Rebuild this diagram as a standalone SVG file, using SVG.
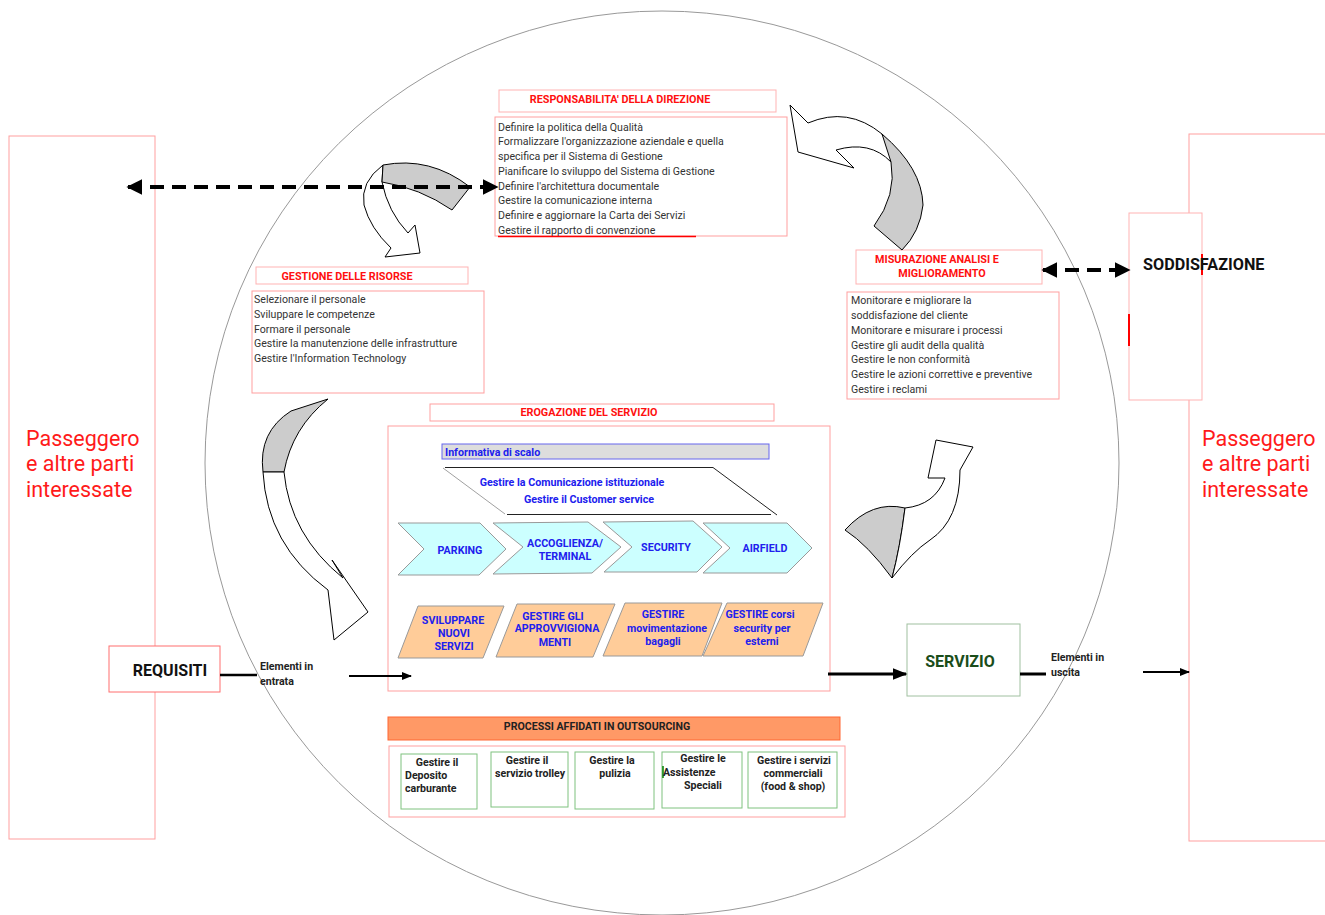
<svg xmlns="http://www.w3.org/2000/svg" width="1325" height="915" viewBox="0 0 1325 915">
<defs>
<style>
.pk{fill:#fff;stroke:#ff9f9f;stroke-width:1}
.t{font-family:Roboto,"Liberation Sans",sans-serif;font-size:10.6px;fill:#333}
.h{font-family:Roboto,"Liberation Sans",sans-serif;font-size:10.8px;font-weight:bold;fill:#ff1010}
.b{font-family:Roboto,"Liberation Sans",sans-serif;font-size:10.7px;font-weight:bold;fill:#2020ee}
.k{font-family:Roboto,"Liberation Sans",sans-serif;font-size:10.6px;font-weight:bold;fill:#222}
.pas{font-family:Roboto,"Liberation Sans",sans-serif;font-size:21.5px;fill:#ff1a1a}
.chev{fill:#ccffff;stroke:#999;stroke-width:1}
.par{fill:#ffcc99;stroke:#999;stroke-width:1}
.gb{fill:#fff;stroke:#7fc27f;stroke-width:1}
.ga{fill:#cccccc;stroke:#000;stroke-width:1}
.wa{fill:#fff;stroke:#000;stroke-width:1}
</style>
<marker id="ah" viewBox="0 0 10 10" refX="9" refY="5" markerWidth="4" markerHeight="4" orient="auto-start-reverse"><path d="M0,0 L10,5 L0,10 Z" fill="#000"/></marker>
<marker id="ah2" viewBox="0 0 10 10" refX="9" refY="5" markerWidth="5" markerHeight="5" orient="auto-start-reverse"><path d="M0,1 L10,5 L0,9 Z" fill="#000"/></marker>
</defs>
<rect width="1325" height="915" fill="#fff"/>

<g id="circle"><ellipse cx="662" cy="463" rx="457" ry="452" fill="none" stroke="#999" stroke-width="1"/></g>

<g id="stakeholder-left">
<rect x="9" y="136" width="146" height="703" class="pk"/>
<text class="pas" x="26" y="446">Passeggero</text>
<text class="pas" x="26" y="471">e altre parti</text>
<text class="pas" x="26" y="497">interessate</text>
</g>
<g id="stakeholder-right">
<rect x="1189" y="134" width="140" height="707" class="pk"/>
<text class="pas" x="1202" y="446">Passeggero</text>
<text class="pas" x="1202" y="471">e altre parti</text>
<text class="pas" x="1202" y="497">interessate</text>
</g>

<g id="soddisfazione">
<rect x="1129" y="213" width="73" height="187" fill="#fff" stroke="#ffb3b3"/>
<line x1="1202" y1="254" x2="1202" y2="275" stroke="#ff0000" stroke-width="2"/>
<line x1="1129" y1="314" x2="1129" y2="346" stroke="#ff0000" stroke-width="2"/>
<text x="1143" y="270" font-family="Roboto,'Liberation Sans',sans-serif" font-size="16.2" font-weight="bold" fill="#111">SODDISFAZIONE</text>
</g>

<g id="direzione">
<rect x="499" y="90" width="277" height="22" fill="#fff" stroke="#ffb3b3"/>
<text class="h" x="620" y="103" text-anchor="middle">RESPONSABILITA' DELLA DIREZIONE</text>
<rect x="495" y="117" width="292" height="119" class="pk"/>
<text class="t" x="498" y="131">Definire la politica della Qualità</text>
<text class="t" x="498" y="145">Formalizzare l'organizzazione aziendale e quella</text>
<text class="t" x="498" y="160">specifica per il Sistema di Gestione</text>
<text class="t" x="498" y="175">Pianificare lo sviluppo del Sistema di Gestione</text>
<text class="t" x="498" y="190">Definire l'architettura documentale</text>
<text class="t" x="498" y="204">Gestire la comunicazione interna</text>
<text class="t" x="498" y="219">Definire e aggiornare la Carta dei Servizi</text>
<text class="t" x="498" y="234">Gestire il rapporto di convenzione</text>
<line x1="498" y1="236.5" x2="696" y2="236.5" stroke="#ff0000" stroke-width="1.5"/>
</g>

<g id="risorse">
<rect x="256" y="267" width="212" height="17" fill="#fff" stroke="#ffb3b3"/>
<text class="h" x="347" y="279.5" text-anchor="middle">GESTIONE DELLE RISORSE</text>
<rect x="252" y="291" width="232" height="102" class="pk"/>
<text class="t" x="254" y="303">Selezionare il personale</text>
<text class="t" x="254" y="318">Sviluppare le competenze</text>
<text class="t" x="254" y="333">Formare il personale</text>
<text class="t" x="254" y="347">Gestire la manutenzione delle infrastrutture</text>
<text class="t" x="254" y="362">Gestire l'Information Technology</text>
</g>

<g id="misurazione">
<rect x="856" y="250" width="186" height="34" fill="#fff" stroke="#ffb3b3"/>
<text class="h" x="937" y="262.5" text-anchor="middle">MISURAZIONE ANALISI E</text>
<text class="h" x="942" y="276.5" text-anchor="middle">MIGLIORAMENTO</text>
<rect x="847" y="292" width="212" height="107" class="pk"/>
<text class="t" x="851" y="304">Monitorare e migliorare la</text>
<text class="t" x="851" y="319">soddisfazione del cliente</text>
<text class="t" x="851" y="334">Monitorare e misurare i processi</text>
<text class="t" x="851" y="349">Gestire gli audit della qualità</text>
<text class="t" x="851" y="363">Gestire le non conformità</text>
<text class="t" x="851" y="378">Gestire le azioni correttive e preventive</text>
<text class="t" x="851" y="393">Gestire i reclami</text>
</g>

<g id="erogazione">
<rect x="430" y="404" width="344" height="17" fill="#fff" stroke="#ff9f9f"/>
<text class="h" x="589" y="416" text-anchor="middle">EROGAZIONE DEL SERVIZIO</text>
<rect x="388" y="426" width="442" height="265" class="pk"/>
<rect x="442" y="444" width="327" height="15" fill="#dddddd" stroke="#6666ee"/>
<text class="b" x="445" y="456" font-size="10.2">Informativa di scalo</text>
<line x1="445" y1="467.5" x2="713" y2="467.5" stroke="#222" stroke-width="1.2"/>
<line x1="713" y1="467.5" x2="777" y2="515" stroke="#222" stroke-width="1"/>
<line x1="507" y1="514.5" x2="771" y2="514.5" stroke="#222" stroke-width="1.2"/>
<line x1="443" y1="468" x2="505" y2="514" stroke="#888" stroke-width="0.8"/>
<text class="b" x="572" y="486" text-anchor="middle" font-size="10.3">Gestire la Comunicazione istituzionale</text>
<text class="b" x="589" y="503" text-anchor="middle" font-size="10.3">Gestire il Customer service</text>
</g>

<g id="parking"><polygon class="chev" points="398,523 480,523 506,549 479,575 398,575 424,549"/><text class="b" x="460" y="554" text-anchor="middle">PARKING</text></g>
<g id="accoglienza"><polygon class="chev" points="493,523 588,522 621,547 592,573 493,574 523,547"/><text class="b" x="565" y="547" text-anchor="middle">ACCOGLIENZA/</text><text class="b" x="565" y="560" text-anchor="middle">TERMINAL</text></g>
<g id="security"><polygon class="chev" points="603,522 693,521 722,547 697,572 604,572 632,547"/><text class="b" x="666" y="551" text-anchor="middle">SECURITY</text></g>
<g id="airfield"><polygon class="chev" points="703,523 787,523 812,548 787,573 703,573 730,548"/><text class="b" x="765" y="552" text-anchor="middle">AIRFIELD</text></g>

<g id="sviluppare"><polygon class="par" points="418,606 504,606 483,658 398,658"/><text class="b" x="453" y="624" text-anchor="middle">SVILUPPARE</text><text class="b" x="454" y="637" text-anchor="middle">NUOVI</text><text class="b" x="454" y="650" text-anchor="middle">SERVIZI</text></g>
<g id="approvvigionamenti"><polygon class="par" points="517,604 615,604 593,657 496,657"/><text class="b" x="553" y="620" text-anchor="middle">GESTIRE GLI</text><text class="b" x="557" y="632" text-anchor="middle">APPROVVIGIONA</text><text class="b" x="555" y="646" text-anchor="middle">MENTI</text></g>
<g id="bagagli"><polygon class="par" points="625,603 722,603 702,656 603,656"/><text class="b" x="663" y="618" text-anchor="middle">GESTIRE</text><text class="b" x="667" y="632" text-anchor="middle">movimentazione</text><text class="b" x="663" y="645" text-anchor="middle">bagagli</text></g>
<g id="corsi"><polygon class="par" points="727,603 823,603 803,656 703,656"/><text class="b" x="760" y="618" text-anchor="middle">GESTIRE corsi</text><text class="b" x="762" y="632" text-anchor="middle">security per</text><text class="b" x="762" y="645" text-anchor="middle">esterni</text></g>

<g id="requisiti">
<rect x="109" y="646" width="111" height="46" fill="#fff" stroke="#ff6f6f"/>
<text x="170" y="676" text-anchor="middle" font-family="Roboto,'Liberation Sans',sans-serif" font-size="16" font-weight="bold" fill="#111">REQUISITI</text>
<text class="k" x="260" y="670">Elementi in</text>
<text class="k" x="260" y="685">entrata</text>
</g>

<g id="servizio">
<rect x="907" y="624" width="113" height="72" fill="#fff" stroke="#a0c0a0"/>
<text x="960" y="667" text-anchor="middle" font-family="Roboto,'Liberation Sans',sans-serif" font-size="16" font-weight="bold" fill="#1a4d1a">SERVIZIO</text>
<text class="k" x="1051" y="661">Elementi in</text>
<text class="k" x="1051" y="676">uscita</text>
</g>

<g id="outsourcing">
<rect x="388" y="717" width="452" height="23" fill="#ff9966" stroke="#ff6633"/>
<text class="k" x="597" y="730" text-anchor="middle">PROCESSI AFFIDATI IN OUTSOURCING</text>
<rect x="389" y="746" width="456" height="71" class="pk"/>
</g>
<g id="deposito"><rect x="401" y="754" width="76" height="55" class="gb"/><text class="k" x="437" y="766" text-anchor="middle">Gestire il</text><text class="k" x="405" y="779">Deposito</text><text class="k" x="405" y="792">carburante</text></g>
<g id="trolley"><rect x="491" y="752" width="77" height="55" class="gb"/><text class="k" x="527" y="764" text-anchor="middle">Gestire il</text><text class="k" x="530" y="777" text-anchor="middle">servizio trolley</text></g>
<g id="pulizia"><rect x="575" y="752" width="79" height="57" class="gb"/><text class="k" x="612" y="764" text-anchor="middle">Gestire la</text><text class="k" x="615" y="777" text-anchor="middle">pulizia</text></g>
<g id="assistenze"><rect x="662" y="752" width="80" height="56" class="gb"/><line x1="663" y1="766" x2="663" y2="778" stroke="#008000" stroke-width="1.5"/><text class="k" x="703" y="762" text-anchor="middle">Gestire le</text><text class="k" x="663" y="776">Assistenze</text><text class="k" x="703" y="789" text-anchor="middle">Speciali</text></g>
<g id="commerciali"><rect x="748" y="752" width="89" height="56" class="gb"/><text class="k" x="794" y="764" text-anchor="middle">Gestire i servizi</text><text class="k" x="793" y="777" text-anchor="middle">commerciali</text><text class="k" x="793" y="790" text-anchor="middle">(food &amp; shop)</text></g>

<g id="curved-arrows">
<path class="wa" d="M383,165 Q360,182 364,205 Q370,228 391,248 L385,257 L420,253 L415,225 L408,233 Q388,212 382,182 Z"/>
<path class="ga" d="M383,165 Q430,156 470,187 L452,210 Q420,188 382,182 Z"/>
<path class="wa" d="M790,105 L808,123 Q848,106 882,134 Q893,150 891,162 Q870,140 836,150 L854,168 L798,152 Z"/>
<path class="ga" d="M882,134 Q922,168 923,205 Q920,232 902,250 L874,226 Q897,195 891,162 Z"/>
<path class="ga" d="M291,411 L328,399 Q292,428 284,472 L263,472 Q258,432 291,411 Z"/>
<path class="wa" d="M263,472 Q267,545 328,590 L334,640 L368,612 L332,560 L343,578 Q290,535 284,472 Z"/>
<path class="ga" d="M845,530 Q872,500 905,508 Q900,548 892,578 Q868,545 845,530 Z"/>
<path class="wa" d="M905,508 Q935,505 945,478 L928,478 L936,440 L973,447 L960,470 Q960,520 930,540 Q912,552 892,578 Q900,548 905,508 Z"/>
</g>

<g id="connectors">
<line x1="128" y1="187" x2="497" y2="187" stroke="#000" stroke-width="4" stroke-dasharray="14,8" marker-start="url(#ah)" marker-end="url(#ah)"/>
<line x1="1043" y1="270" x2="1129" y2="270" stroke="#000" stroke-width="4" stroke-dasharray="14,8" marker-start="url(#ah)" marker-end="url(#ah)"/>
<line x1="220" y1="675" x2="257" y2="675" stroke="#000" stroke-width="2.5"/>
<line x1="349" y1="676" x2="411" y2="676" stroke="#000" stroke-width="2" marker-end="url(#ah2)"/>
<line x1="828" y1="674" x2="906" y2="674" stroke="#000" stroke-width="3" marker-end="url(#ah2)"/>
<line x1="1020" y1="674" x2="1046" y2="674" stroke="#000" stroke-width="3"/>
<line x1="1143" y1="672" x2="1189" y2="672" stroke="#000" stroke-width="2" marker-end="url(#ah2)"/>
</g>
</svg>
